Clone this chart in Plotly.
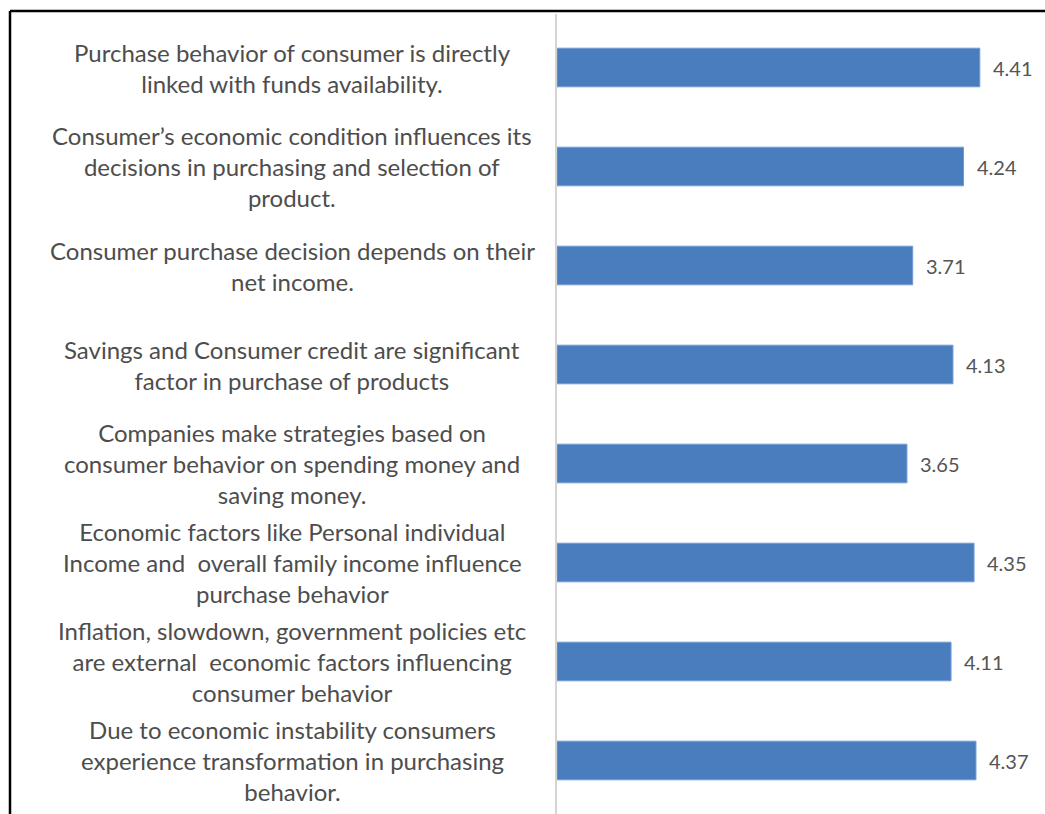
import plotly.graph_objects as go

categories = [
    "Purchase behavior of consumer is directly<br>linked with funds availability.",
    "Consumer’s economic condition influences its<br>decisions in purchasing and selection of<br>product.",
    "Consumer purchase decision depends on their<br>net income.",
    "Savings and Consumer credit are significant<br>factor in purchase of products",
    "Companies make strategies based on<br>consumer behavior on spending money and<br>saving money.",
    "Economic factors like Personal individual<br>Income and  overall family income influence<br>purchase behavior",
    "Inflation, slowdown, government policies etc<br>are external  economic factors influencing<br>consumer behavior",
    "Due to economic instability consumers<br>experience transformation in purchasing<br>behavior.",
]
values = [4.41, 4.24, 3.71, 4.13, 3.65, 4.35, 4.11, 4.37]
value_labels = ["4.41", "4.24", "3.71", "4.13", "3.65", "4.35", "4.11", "4.37"]

W, H = 1045, 814
ML, MR, MT, MB = 557, 0, 18, 4
PW = W - ML - MR
PH = H - MT - MB

def px_x(p):
    return (p - ML) / PW

def px_y(p):
    return (H - MB - p) / PH

ids = [f"c{i}" for i in range(len(categories))]

fig = go.Figure(go.Bar(
    x=values, y=ids, orientation="h",
    marker=dict(color="#4a7dbd", line=dict(color="#6f9bd3", width=1)),
    width=0.39,
))

annotations = []
for cid, lab in zip(ids, categories):
    annotations.append(dict(
        x=px_x(292), xref="paper", y=cid, yref="y",
        text=lab, showarrow=False, xanchor="center", yanchor="middle",
        align="center", font=dict(family="Lato", size=24, color="#4d4d4d"),
    ))
for cid, v, t in zip(ids, values, value_labels):
    annotations.append(dict(
        x=v, xref="x", y=cid, yref="y", text=t, showarrow=False,
        xanchor="left", yanchor="middle", xshift=11,
        font=dict(family="Lato", size=20, color="#555555"),
    ))

shapes = [
    dict(type="line", xref="paper", yref="paper",
         x0=px_x(10), x1=px_x(W + 5), y0=px_y(11), y1=px_y(11),
         line=dict(color="black", width=2.5)),
    dict(type="line", xref="paper", yref="paper",
         x0=px_x(10), x1=px_x(10), y0=px_y(11), y1=px_y(H + 5),
         line=dict(color="black", width=2.5)),
    dict(type="line", xref="paper", yref="paper",
         x0=px_x(556), x1=px_x(556), y0=px_y(14), y1=px_y(H + 5),
         line=dict(color="#d4d4d4", width=2)),
]

fig.update_layout(
    width=W, height=H,
    margin=dict(l=ML, r=MR, t=MT, b=MB),
    paper_bgcolor="white", plot_bgcolor="white",
    showlegend=False,
    xaxis=dict(range=[0, 5.09], visible=False, fixedrange=True),
    yaxis=dict(categoryorder="array", categoryarray=ids, autorange="reversed",
               showticklabels=False, showgrid=False, zeroline=False, showline=False),
    annotations=annotations,
    shapes=shapes,
)

fig.write_html("out.html")
